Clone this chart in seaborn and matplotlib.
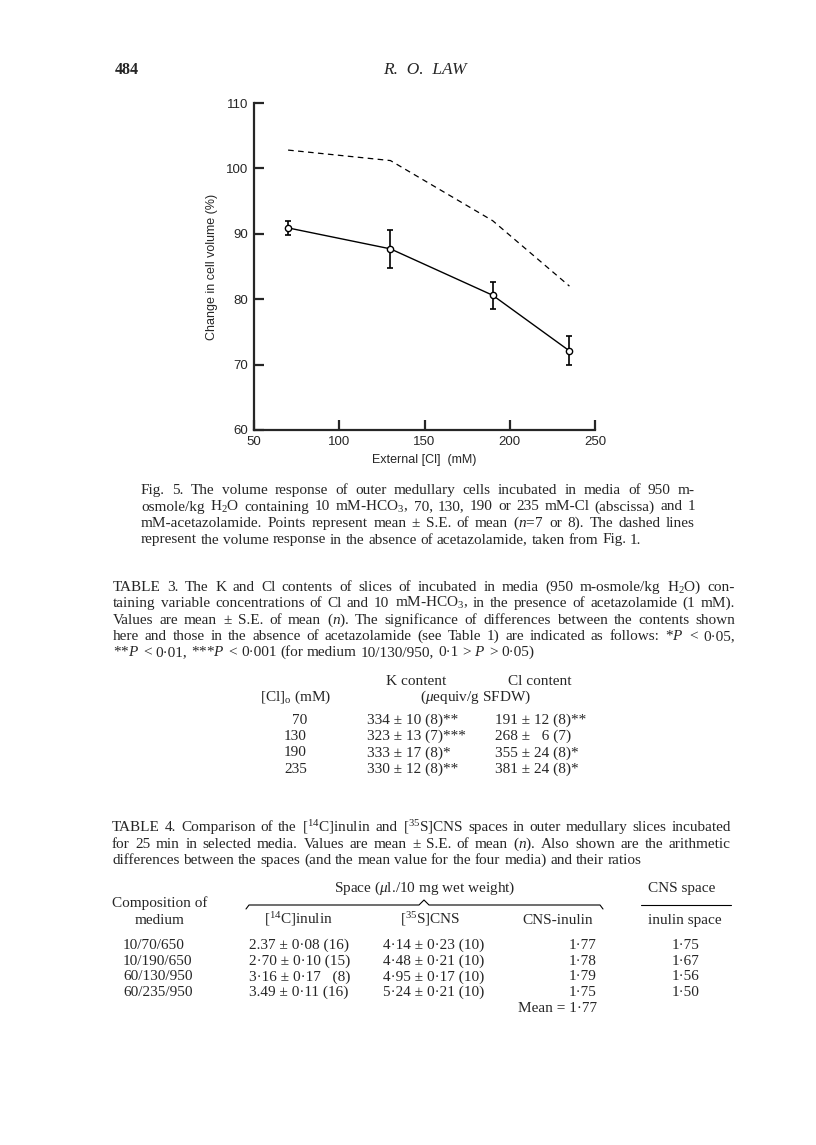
import matplotlib
matplotlib.use('Agg')
import matplotlib.pyplot as plt
import seaborn as sns
from matplotlib.lines import Line2D

# Fig. 5 values
cl_ext = [70, 130, 190, 235]
vol_acetazolamide = [90.9, 87.7, 80.6, 72.1]
vol_se = [1.1, 2.9, 2.1, 2.2]
vol_no_acetazolamide = [102.8, 101.2, 92.0, 82.0]
x_ticks = [50, 100, 150, 200, 250]
y_ticks = [60, 70, 80, 90, 100, 110]

# Table 3
t3_cl = ['70', '130', '190', '235']
t3_k = ['334 ± 10 (8)**', '323 ± 13 (7)***', '333 ± 17 (8)*', '330 ± 12 (8)**']
t3_clc = ['191 ± 12 (8)**', '268 ±   6 (7)', '355 ± 24 (8)*', '381 ± 24 (8)*']

# Table 4
t4_media = ['10/70/650', '10/190/650', '60/130/950', '60/235/950']
t4_inulin = ['2.37 ± 0·08 (16)', '2·70 ± 0·10 (15)', '3·16 ± 0·17   (8)', '3.49 ± 0·11 (16)']
t4_cns = ['4·14 ± 0·23 (10)', '4·48 ± 0·21 (10)', '4·95 ± 0·17 (10)', '5·24 ± 0·21 (10)']
t4_diff = ['1·77', '1·78', '1·79', '1·75']
t4_ratio = ['1·75', '1·67', '1·56', '1·50']
t4_mean = '1·77'

sns.set_style('ticks')
plt.rcParams['font.family'] = ['Liberation Sans', 'DejaVu Sans']
plt.rcParams['mathtext.fontset'] = 'custom'
plt.rcParams['mathtext.rm'] = 'Liberation Serif'
plt.rcParams['mathtext.it'] = 'Liberation Serif:italic'
plt.rcParams['mathtext.bf'] = 'Liberation Serif:bold'

W, H = 816, 1145
fig = plt.figure(figsize=(W / 100, H / 100), dpi=100)
fig.patch.set_facecolor('white')
renderer = fig.canvas.get_renderer()
FS = 11


def fx(x):
    return x / W


def fy(y):
    return 1 - y / H


def put(x, y, s, ha='left', size=FS, **kw):
    return fig.text(fx(x), fy(y + 4), s, ha=ha, va='baseline', fontsize=size,
                    family='Liberation Serif', **kw)


def para(lines, x0, x1, y0, step, size=FS):
    # justified block, last line left ragged
    for i, line in enumerate(lines):
        y = y0 + i * step
        words = line.split(' ')
        texts = [put(0, y, w, size=size) for w in words]
        widths = [t.get_window_extent(renderer).width for t in texts]
        if i == len(lines) - 1:
            gap = size * 0.25 * 100 / 72
        else:
            gap = max(2, (x1 - x0 - sum(widths)) / (len(words) - 1))
        x = x0
        for t, w in zip(texts, widths):
            t.set_x(fx(x))
            x += w + gap


# header
put(115, 70, '484', size=11.5, weight='bold')
put(425, 70, 'R.  O.  LAW', ha='center', size=12.5, style='italic')

# chart
ax = fig.add_axes([fx(254), fy(430), 341 / W, 327 / H])
ax.errorbar(cl_ext, vol_acetazolamide, yerr=vol_se, fmt='none', ecolor='black',
            elinewidth=1.2, capsize=2, capthick=1.2, zorder=2)
sns.lineplot(x=cl_ext, y=vol_acetazolamide, ax=ax, color='black', lw=1,
             marker='o', markersize=4.5, markerfacecolor='white',
             markeredgecolor='black', markeredgewidth=1, zorder=3)
sns.lineplot(x=cl_ext, y=vol_no_acetazolamide, ax=ax, color='black', lw=0.9,
             linestyle=(0, (4.5, 3.5)))
ax.set_xlim(50, 250)
ax.set_ylim(60, 110)
ax.set_xticks(x_ticks)
ax.set_yticks(y_ticks)
sns.despine(ax=ax)
for s in ['left', 'bottom']:
    ax.spines[s].set_linewidth(1.6)
ax.tick_params(direction='in', length=7.5, width=1.6, labelsize=9.5, pad=4)
ax.set_xlabel('External [Cl]  (mM)', fontsize=9, labelpad=5)
ax.set_ylabel('Change in cell volume (%)', fontsize=9, labelpad=6)
ax.patch.set_alpha(0)

# Fig. 5 caption
para(['Fig. 5. The volume response of outer medullary cells incubated in media of 950 m-',
      'osmole/kg H$_2$O containing 10 mM-HCO$_3$, 70, 130, 190 or 235 mM-Cl (abscissa) and 1',
      'mM-acetazolamide. Points represent mean ± S.E. of mean ($n$=7 or 8). The dashed lines',
      'represent the volume response in the absence of acetazolamide, taken from Fig. 1.'],
     141, 695, 490, 16.5)

# Table 3
para(['TABLE 3. The K and Cl contents of slices of incubated in media (950 m-osmole/kg H$_2$O) con-',
      'taining variable concentrations of Cl and 10 mM-HCO$_3$, in the presence of acetazolamide (1 mM).',
      'Values are mean ± S.E. of mean ($n$). The significance of differences between the contents shown',
      'here and those in the absence of acetazolamide (see Table 1) are indicated as follows: *$P$ < 0·05,',
      '**$P$ < 0·01, ***$P$ < 0·001 (for medium 10/130/950, 0·1 > $P$ > 0·05)'],
     113, 735, 587, 16.3)

put(416, 681, 'K content', ha='center')
put(540, 681, 'Cl content', ha='center')
put(296, 697, '[Cl]$_\\mathrm{o}$ (mM)', ha='center')
put(476, 697, '($\\mu$equiv/g SFDW)', ha='center')
for i in range(len(t3_cl)):
    y = 720 + i * 16.2
    put(307, y, t3_cl[i], ha='right')
    put(367, y, t3_k[i])
    put(495, y, t3_clc[i])

# Table 4
para(['TABLE 4. Comparison of the [$^{14}$C]inulin and [$^{35}$S]CNS spaces in outer medullary slices incubated',
      'for 25 min in selected media. Values are mean ± S.E. of mean ($n$). Also shown are the arithmetic',
      'differences between the spaces (and the mean value for the four media) and their ratios'],
     112, 731, 827, 16.5)

put(425, 888, 'Space ($\\mu$l./10 mg wet weight)', ha='center')
put(682, 888, 'CNS space', ha='center')
put(160, 903, 'Composition of', ha='center')
put(160, 920, 'medium', ha='center')
put(298, 920, '[$^{14}$C]inulin', ha='center')
put(430, 920, '[$^{35}$S]CNS', ha='center')
put(558, 920, 'CNS-inulin', ha='center')
put(685, 920, 'inulin space', ha='center')

brace_x = [246, 249, 419, 424, 429, 600, 603]
brace_y = [909, 905, 905, 900, 905, 905, 909]
fig.add_artist(Line2D([fx(v) for v in brace_x], [fy(v) for v in brace_y],
                      transform=fig.transFigure, color='black', lw=0.8))
fig.add_artist(Line2D([fx(641), fx(731)], [fy(905), fy(905)],
                      transform=fig.transFigure, color='black', lw=0.8))

for i in range(len(t4_media)):
    y = 945 + i * 15.7
    put(123, y, t4_media[i])
    put(249, y, t4_inulin[i])
    put(383, y, t4_cns[i])
    put(597, y, t4_diff[i], ha='right')
    put(686, y, t4_ratio[i], ha='center')
put(597, 1008, 'Mean = ' + t4_mean, ha='right')

fig.savefig('out.png', dpi=100, facecolor='white')
